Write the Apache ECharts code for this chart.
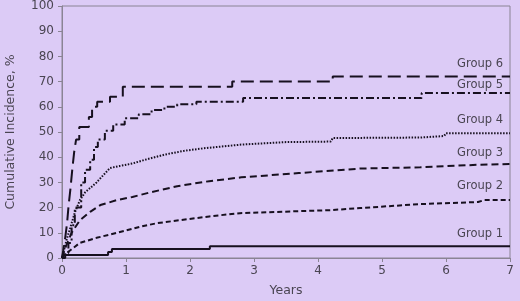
<!DOCTYPE html>
<html>
<head>
<meta charset="utf-8">
<script src="https://cdn.jsdelivr.net/npm/echarts@6/dist/echarts.min.js"></script>
<style>
  html, body { margin: 0; padding: 0; background: #dccbf6; }
  #chart { width: 520px; height: 301px; }
</style>
</head>
<body>
<div id="chart"></div>
<script>
// ── 数据: 各组累计发生率 [年, %] ──
const group1 = [[0, 0], [0.02, 1.2], [0.72, 2.4], [0.78, 3.6], [2.31, 4.7], [7, 4.7]]
const group2 = [[0, 0], [0.05, 1.5], [0.125, 3], [0.28, 6], [0.54, 8], [0.86, 10], [1.22, 12.4], [1.48, 13.8],
  [1.84, 15], [2.3, 16.5], [2.78, 17.8], [4.2, 19], [4.66, 19.8], [5.6, 21.4], [6.5, 22.2], [6.6, 23], [7, 23]]
const group3 = [[0, 0], [0.05, 4], [0.1, 7], [0.15, 10], [0.28, 15], [0.44, 18.3], [0.6, 21], [0.86, 23],
  [1.1, 24.2], [1.37, 26], [1.8, 28.5], [2.3, 30.5], [2.8, 32], [3.7, 33.7], [4.66, 35.5], [5.6, 36],
  [6.5, 37], [7, 37.3]]
const group4 = [[0, 0], [0.03, 3], [0.08, 8], [0.13, 12], [0.2, 18], [0.28, 23], [0.36, 26], [0.45, 28],
  [0.54, 30], [0.65, 33], [0.75, 35.7], [0.9, 36.5], [1.1, 37.5], [1.3, 39], [1.6, 41], [1.9, 42.5],
  [2.2, 43.5], [2.8, 45], [3.5, 46], [4.2, 46.2], [4.23, 47.6], [5.6, 47.8], [5.62, 48.2], [5.97, 48.4],
  [6, 49.5], [7, 49.5]]
const group5 = [[0, 0], [0.05, 2], [0.1, 6], [0.15, 13], [0.2, 20], [0.3, 30], [0.36, 35], [0.44, 39],
  [0.5, 44], [0.56, 47], [0.67, 50.5], [0.8, 53], [0.98, 55.5], [1.2, 57], [1.4, 58.7], [1.6, 60],
  [1.8, 61], [2.1, 62], [2.83, 63.5], [5.62, 65.5], [7, 65.5]]
const group6 = [[0, 0], [0.02, 3], [0.05, 8], [0.08, 14], [0.1, 20], [0.13, 27], [0.16, 35], [0.19, 42],
  [0.22, 47], [0.27, 52], [0.42, 56], [0.47, 60], [0.55, 62], [0.75, 64], [0.95, 68], [2.66, 70],
  [4.23, 72], [7, 72]]

const groupNames = ['Group 1', 'Group 2', 'Group 3', 'Group 4', 'Group 5', 'Group 6']
const xTicks = [0, 1, 2, 3, 4, 5, 6, 7]
const yTicks = [0, 10, 20, 30, 40, 50, 60, 70, 80, 90, 100]

// ── 样式 ──
const ink = '#17101f'
const axisGray = '#8a8494'
const textGray = '#4a4552'
const font = 'DejaVu Sans, Verdana, sans-serif'

function makeSeries(name, data, dash, step, labelDy) {
  const last = data[data.length - 1]
  return {
    name, type: 'line', data, step: step ? 'end' : false,
    showSymbol: false, symbol: 'none', silent: true,
    lineStyle: { color: ink, width: 2, type: dash, cap: 'butt' },
    markPoint: {
      symbol: 'circle', symbolSize: 0, silent: true,
      data: [{ coord: last }],
      label: {
        show: true, formatter: name, color: textGray, fontFamily: font, fontSize: 11.5,
        align: 'right', verticalAlign: 'middle', offset: [-7, labelDy],
      },
    },
  }
}

const chart = echarts.init(document.getElementById('chart'), undefined, { renderer: 'canvas' })

chart.setOption({
  backgroundColor: '#dccbf6',
  animation: false,
  grid: {
    left: 62, right: 10, top: 6, bottom: 43, containLabel: false, outerBoundsMode: 'none',
    show: true, borderColor: axisGray, borderWidth: 1,
  },
  xAxis: {
    type: 'value', min: xTicks[0], max: xTicks[xTicks.length - 1], interval: 1,
    name: 'Years', nameLocation: 'middle', nameGap: 26,
    nameTextStyle: { color: textGray, fontFamily: font, fontSize: 12.5 },
    axisLine: { show: true, lineStyle: { color: axisGray } },
    axisTick: { show: true, length: 4, lineStyle: { color: axisGray } },
    axisLabel: { color: textGray, fontFamily: font, fontSize: 12, margin: 7 },
    splitLine: { show: false },
  },
  yAxis: {
    type: 'value', min: yTicks[0], max: yTicks[yTicks.length - 1], interval: 10,
    name: 'Cumulative Incidence, %', nameLocation: 'middle', nameGap: 45,
    nameTextStyle: { color: textGray, fontFamily: font, fontSize: 12.5 },
    axisLine: { show: true, lineStyle: { color: axisGray } },
    axisTick: { show: true, length: 4, lineStyle: { color: axisGray } },
    axisLabel: { color: textGray, fontFamily: font, fontSize: 12, margin: 8 },
    splitLine: { show: false },
  },
  series: [
    makeSeries(groupNames[0], group1, 'solid', true, -12),
    makeSeries(groupNames[1], group2, [5, 3], false, -14),
    makeSeries(groupNames[2], group3, [7, 4], false, -11),
    makeSeries(groupNames[3], group4, [1.5, 1.5], false, -13),
    makeSeries(groupNames[4], group5, [8, 3, 2, 3], true, -8),
    makeSeries(groupNames[5], group6, [13, 6], true, -13),
  ],
})
</script>
</body>
</html>
